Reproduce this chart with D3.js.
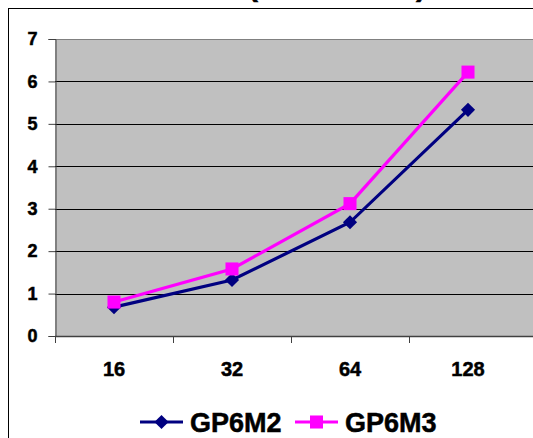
<!DOCTYPE html>
<html>
<head>
<meta charset="utf-8">
<script src="https://cdn.jsdelivr.net/npm/d3@7"></script>
<style>
  body { margin: 0; background: #fff; }
  svg text { font-family: "Liberation Sans", Arial, sans-serif; font-weight: 700; stroke: #000; stroke-width: 0.5px; }
</style>
</head>
<body>
<svg id="chart" width="533" height="438"></svg>
<script>
// chart values
const categories = ["16", "32", "64", "128"];
const gp6m2 = [0.68, 1.32, 2.68, 5.33];
const gp6m3 = [0.80, 1.58, 3.12, 6.22];
const yTicks = [0, 1, 2, 3, 4, 5, 6, 7];

const svg = d3.select("#chart");
const width = 533, height = 438;
const plot = { left: 55, right: 527, top: 39, bottom: 336 };

// outer frame (runs off the right and bottom edges)
svg.append("rect")
    .attr("x", 8.5).attr("y", 8.5)
    .attr("width", width).attr("height", height)
    .attr("fill", "#fff").attr("stroke", "#000");

// title, mostly cut off at the top: only the parentheses peek in
const title = svg.append("text")
    .attr("y", -4)
    .attr("font-size", 30);
title.append("tspan").attr("x", 248).text("(");
title.append("tspan").attr("x", 262).attr("dy", -6).attr("textLength", 150).attr("lengthAdjust", "spacing").text("seconds");
title.append("tspan").attr("x", 416).attr("dy", 6).text(")");

const x = d3.scaleBand()
    .domain(categories)
    .range([plot.left, plot.right]);

const y = d3.scaleLinear()
    .domain([0, 7])
    .range([plot.bottom, plot.top]);

// plot background
svg.append("rect")
    .attr("x", plot.left).attr("y", plot.top)
    .attr("width", width - plot.left + 10)
    .attr("height", plot.bottom - plot.top)
    .attr("fill", "#c0c0c0");

// gridlines
svg.append("g")
    .selectAll("line")
    .data(yTicks.slice(1))
    .join("line")
    .attr("x1", plot.left).attr("x2", width + 10)
    .attr("y1", d => Math.round(y(d)) + 0.5)
    .attr("y2", d => Math.round(y(d)) + 0.5)
    .attr("stroke", d => d === 7 ? "#808080" : "#000");

// y axis
const yAxis = svg.append("g")
    .attr("transform", `translate(${plot.left + 0.5},0)`)
    .call(d3.axisLeft(y).tickValues(yTicks).tickSize(7).tickPadding(11).tickFormat(d3.format("d")));
yAxis.attr("font-family", null).attr("font-size", null);
yAxis.select(".domain").attr("stroke", "#404040");
yAxis.selectAll(".tick line").attr("stroke", "#404040");
yAxis.selectAll("text")
    .attr("font-size", 18)
    .attr("fill", "#000");

// x axis
const xAxis = svg.append("g")
    .attr("transform", `translate(0,${Math.round(plot.bottom) + 0.5})`)
    .call(d3.axisBottom(x).tickSize(0).tickPadding(25));
xAxis.attr("font-family", null).attr("font-size", null);
xAxis.select(".domain").remove();
svg.append("line")
    .attr("x1", plot.left).attr("x2", width + 10)
    .attr("y1", plot.bottom + 0.5).attr("y2", plot.bottom + 0.5)
    .attr("stroke", "#404040").attr("stroke-width", 1.5);
svg.append("g")
    .selectAll("line")
    .data(categories)
    .join("line")
    .attr("x1", d => Math.round(x(d)) + 0.5)
    .attr("x2", d => Math.round(x(d)) + 0.5)
    .attr("y1", plot.bottom).attr("y2", plot.bottom + 7)
    .attr("stroke", "#404040");
xAxis.selectAll("text")
    .attr("font-size", 20)
    .attr("fill", "#000");

const cx = d => x(d) + x.bandwidth() / 2;

// diamond = square turned 45 degrees
const series = [
    { name: "GP6M2", values: gp6m2, color: "#000080", symbol: d3.symbolSquare, size: 100, rotate: 45 },
    { name: "GP6M3", values: gp6m3, color: "#ff00ff", symbol: d3.symbolSquare, size: 170, rotate: 0 }
];

const line = d3.line()
    .x((d, i) => cx(categories[i]))
    .y(d => y(d));

series.forEach(s => {
    svg.append("path")
        .datum(s.values)
        .attr("d", line)
        .attr("fill", "none")
        .attr("stroke", s.color)
        .attr("stroke-width", 3.2);

    svg.append("g")
        .selectAll("path")
        .data(s.values)
        .join("path")
        .attr("transform", (d, i) => `translate(${cx(categories[i])},${y(d)}) rotate(${s.rotate})`)
        .attr("d", d3.symbol().type(s.symbol).size(s.size))
        .attr("fill", s.color);
});

// legend
const legendX = [140, 295];
const legendY = 422;
series.forEach((s, i) => {
    const g = svg.append("g").attr("transform", `translate(${legendX[i]},${legendY})`);
    g.append("line")
        .attr("x1", 0).attr("x2", 43)
        .attr("stroke", s.color).attr("stroke-width", 3.2);
    g.append("path")
        .attr("transform", `translate(21.5,0) rotate(${s.rotate})`)
        .attr("d", d3.symbol().type(s.symbol).size(s.size))
        .attr("fill", s.color);
    g.append("text")
        .attr("x", 50).attr("y", 10)
        .attr("font-size", 27)
        .text(s.name);
});
</script>
</body>
</html>
